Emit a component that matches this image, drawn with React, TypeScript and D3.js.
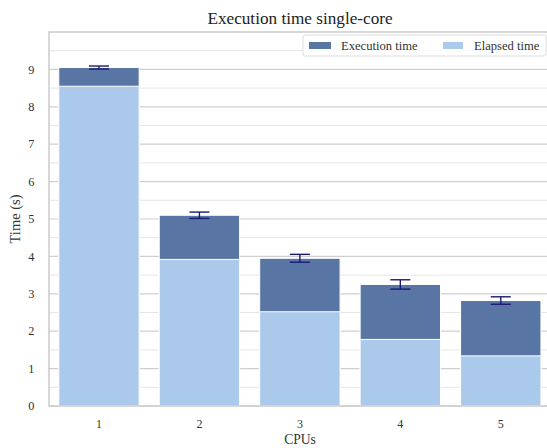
import React from "react";
import * as d3 from "d3";

// values
const cpus = ["1", "2", "3", "4", "5"];
const executionTime = [9.05, 5.1, 3.95, 3.25, 2.82];
const executionErr = [0.04, 0.085, 0.105, 0.125, 0.1];
const elapsedTime = [8.55, 3.92, 2.52, 1.78, 1.34];
const yTicks = [0, 1, 2, 3, 4, 5, 6, 7, 8, 9];
const yMinor = d3.range(0.5, 10, 1);

const W = 547;
const H = 448;
const left = 49;
const right = 551;
const top = 32;
const bottom = 406;
const darkBlue = "#5875a4";
const lightBlue = "#abc9ea";
const errColor = "#1a1a75";
const font = "'Liberation Serif', 'DejaVu Serif', serif";

export default function App() {
  const x = d3.scaleBand().domain(cpus).range([left - 0.25, right]).paddingInner(0.2).paddingOuter(0.1);
  const y = d3.scaleLinear().domain([0, 10]).range([bottom, top]);
  const bw = x.bandwidth();

  return (
    <svg width={W} height={H} style={{ position: "absolute", left: 0, top: 0 }} fontFamily={font}>
      <rect width={W} height={H} fill="white" />
      {/* grid */}
      {yMinor.map(t => (
        <line key={"m" + t} x1={left} x2={right} y1={y(t)} y2={y(t)} stroke="#e6e6e6" strokeWidth={1} />
      ))}
      {yTicks.map(t => (
        <line key={"g" + t} x1={left} x2={right} y1={y(t)} y2={y(t)} stroke="#cfcfcf" strokeWidth={1.2} />
      ))}
      {/* bars: total execution time behind, elapsed on top */}
      {cpus.map((c, i) => (
        <rect key={"e" + c} x={x(c)} y={y(executionTime[i])} width={bw} height={y(0) - y(executionTime[i])}
          fill={darkBlue} stroke="white" strokeWidth={1} />
      ))}
      {cpus.map((c, i) => (
        <rect key={"l" + c} x={x(c)} y={y(elapsedTime[i])} width={bw} height={y(0) - y(elapsedTime[i])}
          fill={lightBlue} stroke="white" strokeWidth={1} />
      ))}
      {/* error bars */}
      {cpus.map((c, i) => {
        const cx = (x(c) as number) + bw / 2;
        const y1 = y(executionTime[i] + executionErr[i]);
        const y2 = y(executionTime[i] - executionErr[i]);
        return (
          <g key={"err" + c} stroke={errColor} strokeWidth={1.4}>
            <line x1={cx} x2={cx} y1={y1} y2={y2} />
            <line x1={cx - 10} x2={cx + 10} y1={y1} y2={y1} />
            <line x1={cx - 10} x2={cx + 10} y1={y2} y2={y2} />
          </g>
        );
      })}
      {/* spines */}
      <rect x={left} y={top} width={right - left} height={bottom - top} fill="none" stroke="#cccccc" strokeWidth={1.5} />
      {/* tick labels */}
      {yTicks.map(t => (
        <text key={"yt" + t} x={34.5} y={y(t) + 4.2} textAnchor="end" fontSize={12.3} fill="#333">{t}</text>
      ))}
      {cpus.map(c => (
        <text key={"xt" + c} x={(x(c) as number) + bw / 2} y={428} textAnchor="middle" fontSize={12} fill="#333">{c}</text>
      ))}
      <text x={(left + right) / 2} y={444} textAnchor="middle" fontSize={13.6} fill="#333">CPUs</text>
      <text transform={`translate(20,${(top + bottom) / 2}) rotate(-90)`} textAnchor="middle" fontSize={14.5} fill="#333">Time (s)</text>
      <text x={(left + right) / 2} y={24} textAnchor="middle" fontSize={17.2} fill="#222">Execution time single-core</text>
      {/* legend */}
      <g>
        <rect x={303} y={35} width={243} height={21} rx={2} fill="white" fillOpacity={0.85} stroke="#dddddd" strokeWidth={1} />
        <rect x={309} y={42} width={22} height={7} fill={darkBlue} />
        <text x={341} y={50} fontSize={12.6} fill="#333">Execution time</text>
        <rect x={443} y={42} width={20} height={7} fill={lightBlue} />
        <text x={474} y={50} fontSize={12.6} fill="#333">Elapsed time</text>
      </g>
    </svg>
  );
}
